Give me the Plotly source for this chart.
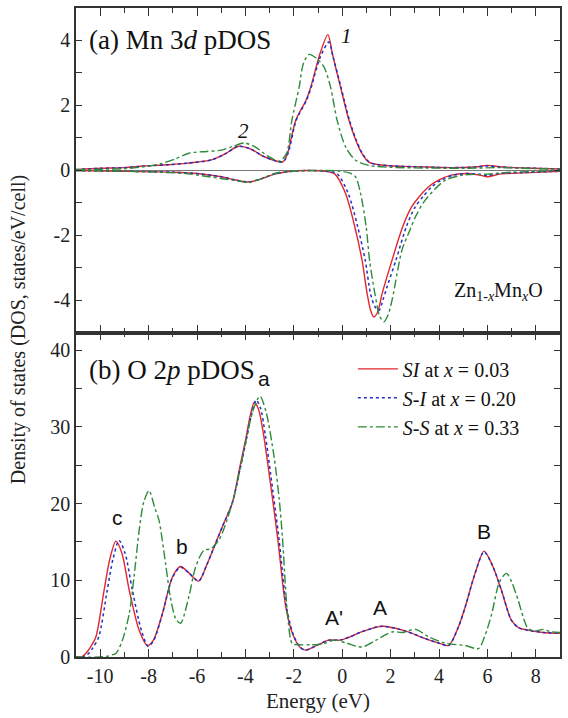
import plotly.graph_objects as go
from plotly.subplots import make_subplots

# ---------------- data ----------------
# Panel (a): Mn 3d pDOS, spin-up (positive) and spin-down (negative)
si_up_x = [-11, -10, -9, -8.2, -7.2, -6.4, -5.4, -4.8, -4.3, -3.8, -3.2, -2.45, -2.26, -1.92, -1.5, -1.3,
           -0.92, -0.59, -0.41, -0.07, 0.28, 0.55, 0.82, 1.1, 1.5, 2.5, 3.5, 4.5, 5.5, 6.0, 6.6, 7.5, 9]
si_up_y = [0.02, 0.06, 0.08, 0.13, 0.17, 0.22, 0.32, 0.52, 0.74, 0.66, 0.41, 0.26, 0.52, 1.54, 2.15, 2.56,
           3.59, 4.18, 3.6, 2.56, 1.54, 0.95, 0.51, 0.25, 0.17, 0.12, 0.1, 0.08, 0.1, 0.15, 0.1, 0.07, 0.04]
si_dn_x = [-11, -9, -7, -6, -5, -4.4, -3.9, -3.4, -2.8, -2.2, -1.5, -0.7, -0.3, 0.14, 0.52, 0.82, 1.03, 1.17,
           1.3, 1.45, 1.65, 2.06, 2.5, 2.85, 3.2, 3.57, 4.0, 4.5, 5.2, 5.7, 6.0, 6.5, 7.5, 9]
si_dn_y = [-0.01, -0.03, -0.06, -0.1, -0.2, -0.3, -0.36, -0.28, -0.12, -0.04, -0.01, -0.03, -0.12, -0.72,
           -1.74, -2.77, -3.8, -4.31, -4.52, -4.4, -3.8, -2.77, -1.74, -1.15, -0.8, -0.51, -0.3, -0.15, -0.1,
           -0.15, -0.2, -0.12, -0.08, -0.03]

sdi_up_x = [-11, -10, -9, -8.2, -7.2, -6.4, -5.4, -4.8, -4.3, -3.8, -3.2, -2.45, -2.24, -1.9, -1.48, -1.28,
            -0.9, -0.55, -0.38, -0.05, 0.3, 0.57, 0.84, 1.12, 1.5, 2.5, 3.5, 4.5, 5.5, 6.0, 6.6, 7.5, 9]
sdi_up_y = [0.02, 0.06, 0.08, 0.13, 0.17, 0.22, 0.32, 0.52, 0.74, 0.66, 0.41, 0.26, 0.52, 1.54, 2.15, 2.56,
            3.5, 3.95, 3.5, 2.56, 1.54, 0.95, 0.51, 0.25, 0.17, 0.12, 0.1, 0.08, 0.1, 0.13, 0.1, 0.07, 0.04]
sdi_dn_x = [-11, -9, -7, -6, -5, -4.4, -3.9, -3.4, -2.8, -2.2, -1.5, -0.7, -0.2, 0.25, 0.64, 0.95, 1.17, 1.35,
            1.52, 1.68, 1.85, 2.22, 2.65, 3.0, 3.35, 3.7, 4.1, 4.6, 5.2, 5.7, 6.0, 6.5, 7.5, 9]
sdi_dn_y = [-0.01, -0.03, -0.06, -0.1, -0.2, -0.3, -0.36, -0.28, -0.12, -0.04, -0.01, -0.03, -0.12, -0.72,
            -1.74, -2.77, -3.8, -4.2, -4.32, -4.0, -3.6, -2.77, -1.74, -1.15, -0.8, -0.51, -0.3, -0.15, -0.1,
            -0.13, -0.16, -0.1, -0.07, -0.03]

ss_up_x = [-11, -10, -9, -8.3, -7.5, -6.9, -6.3, -5.6, -5.0, -4.5, -4.05, -3.6, -3.1, -2.6, -2.3, -2.08,
           -1.78, -1.6, -1.37, -1.03, -0.75, -0.48, -0.21, 0.14, 0.55, 1.1, 2.0, 3.5, 5, 6.5, 8, 9]
ss_up_y = [0.02, 0.03, 0.05, 0.1, 0.2, 0.35, 0.53, 0.58, 0.62, 0.74, 0.84, 0.72, 0.45, 0.28, 0.52, 1.54,
           2.56, 3.3, 3.57, 3.43, 3.18, 2.56, 1.54, 0.72, 0.31, 0.15, 0.09, 0.07, 0.06, 0.08, 0.05, 0.04]
ss_dn_x = [-11, -9, -8, -6.5, -5.5, -4.96, -4.3, -3.9, -3.4, -2.8, -2.2, -1.2, -0.2, 0.3, 0.55, 0.76, 0.99,
           1.13, 1.35, 1.55, 1.72, 1.9, 2.06, 2.47, 2.74, 3.05, 3.43, 4.25, 5.0, 6.0, 7.0, 9]
ss_dn_y = [-0.01, -0.03, -0.05, -0.1, -0.2, -0.26, -0.33, -0.38, -0.28, -0.1, -0.03, -0.01, -0.02, -0.08,
           -0.2, -0.72, -1.74, -2.77, -3.8, -4.5, -4.67, -4.45, -4.0, -2.46, -1.95, -1.4, -0.92, -0.31, -0.15,
           -0.12, -0.06, -0.02]

# Panel (b): O 2p pDOS
si_o_x = [-11, -10.75, -10.59, -10.4, -10.18, -9.84, -9.6, -9.35, -9.1, -8.8, -8.39, -8.05, -7.8, -7.43, -7.02,
          -6.68, -6.35, -5.93, -5.6, -5.35, -4.95, -4.53, -4.25, -3.98, -3.8, -3.63, -3.45, -3.25, -3.02, -2.67,
          -2.33, -2.06, -1.75, -1.51, -1.0, -0.55, -0.1, 0.3, 0.82, 1.65, 2.6, 3.43, 4.0, 4.4, 4.8, 5.08, 5.49,
          5.86, 6.2, 6.58, 6.99, 7.3, 7.68, 8.3, 9.0]
si_o_y = [0.0, 0.05, 0.5, 1.3, 2.6, 8.7, 12.8, 15.1, 13.5, 8.7, 3.5, 1.5, 2.2, 5.65, 10.4, 11.8, 11.0, 9.9, 12.0,
          13.9, 17.0, 20.2, 24.5, 28.5, 31.5, 33.2, 32.2, 29.0, 23.9, 15.6, 6.5, 3.1, 1.3, 0.9, 1.6, 2.2, 2.2,
          2.6, 3.3, 4.0, 3.4, 2.4, 1.8, 1.5, 3.9, 6.5, 10.9, 13.8, 12.0, 8.7, 4.8, 3.8, 3.5, 3.2, 3.1]

sdi_o_x = [-11, -10.7, -10.5, -10.3, -10.06, -9.71, -9.47, -9.22, -8.97, -8.67, -8.3, -8.02, -7.8, -7.43, -7.02,
           -6.68, -6.35, -5.93, -5.6, -5.35, -4.95, -4.53, -4.22, -3.95, -3.75, -3.56, -3.38, -3.18, -2.96, -2.62,
           -2.3, -2.04, -1.75, -1.51, -1.0, -0.55, -0.1, 0.3, 0.82, 1.65, 2.6, 3.43, 4.0, 4.4, 4.8, 5.08, 5.49,
           5.86, 6.2, 6.58, 6.99, 7.3, 7.68, 8.3, 9.0]
sdi_o_y = [0.0, 0.05, 0.4, 1.2, 2.6, 8.7, 12.8, 15.2, 13.5, 8.7, 3.5, 1.4, 2.1, 5.6, 10.3, 11.7, 11.0, 9.9, 12.0,
           13.9, 17.0, 20.2, 24.5, 28.5, 31.6, 33.5, 32.5, 29.0, 23.9, 15.6, 6.5, 3.1, 1.3, 0.9, 1.6, 2.2, 2.2,
           2.6, 3.3, 4.0, 3.4, 2.4, 1.8, 1.5, 3.9, 6.5, 10.9, 13.7, 12.0, 8.7, 4.8, 3.8, 3.5, 3.2, 3.1]

ss_o_x = [-11, -10, -9.7, -9.49, -9.35, -9.08, -8.8, -8.6, -8.39, -8.2, -7.98, -7.75, -7.57, -7.3, -7.1, -6.88,
          -6.68, -6.34, -6.06, -5.72, -5.44, -5.1, -4.53, -4.0, -3.7, -3.4, -3.15, -2.81, -2.6, -2.47, -2.26,
          -2.06, -1.8, -1.3, -0.8, -0.3, 0.2, 0.82, 1.4, 2.06, 2.5, 3.02, 3.6, 4.25, 5.08, 5.63, 5.9, 6.18, 6.5,
          6.79, 7.0, 7.27, 7.5, 7.68, 8.0, 8.3, 8.6, 9.0]
ss_o_y = [0.0, 0.0, 0.1, 0.3, 0.45, 2.2, 5.65, 10.5, 16.5, 20.2, 21.7, 19.5, 17.8, 12.2, 7.8, 5.0, 4.4, 7.8,
          11.7, 13.9, 14.1, 15.2, 20.2, 27.8, 32.0, 34.0, 32.0, 26.0, 20.5, 15.6, 5.65, 1.75, 1.6, 1.6, 1.7,
          2.2, 1.8, 1.3, 2.2, 3.26, 3.2, 3.6, 2.6, 1.8, 1.5, 1.1, 2.8, 5.65, 9.8, 10.9, 9.8, 7.4, 5.0, 3.7, 3.4,
          3.6, 3.3, 3.2]

series_names = ["<i>SI</i> at <i>x</i> = 0.03", "<i>S-I</i> at <i>x</i> = 0.20", "<i>S-S</i> at <i>x</i> = 0.33"]

x_tickvals = [-10, -8, -6, -4, -2, 0, 2, 4, 6, 8]
x_ticktext = ["-10", "-8", "-6", "-4", "-2", "0", "2", "4", "6", "8"]
ya_tickvals = [-4, -2, 0, 2, 4]
ya_ticktext = ["-4", "-2", "0", "2", "4"]
yb_tickvals = [0, 10, 20, 30, 40]
yb_ticktext = ["0", "10", "20", "30", "40"]

# peak labels (text, x, y)
mn_labels = [("1", 0.16, 4.15), ("2", -4.07, 1.2)]
o_labels = [("c", -9.27, 18.2), ("b", -6.61, 14.4), ("a", -3.24, 36.3),
            ("A'", -0.34, 5.2), ("A", 1.58, 6.5), ("B", 5.86, 16.3)]

# ---------------- styling ----------------
SERIF = "Liberation Serif, Times New Roman, serif"
SANS = "Liberation Sans, Arial, sans-serif"
RED = "#e3262c"
BLUE = "#1f2fc4"
GREEN = "#2e8b3a"
styles = [dict(color=RED, width=1.4, dash="solid"),
          dict(color=BLUE, width=1.5, dash="dot"),
          dict(color=GREEN, width=1.4, dash="dashdot")]

fig = make_subplots(rows=2, cols=1, shared_xaxes=True, vertical_spacing=0)

top_sets = [(si_up_x, si_up_y, si_dn_x, si_dn_y),
            (sdi_up_x, sdi_up_y, sdi_dn_x, sdi_dn_y),
            (ss_up_x, ss_up_y, ss_dn_x, ss_dn_y)]
bot_sets = [(si_o_x, si_o_y), (sdi_o_x, sdi_o_y), (ss_o_x, ss_o_y)]

for i, (ux, uy, dx, dy) in enumerate(top_sets):
    for xs, ys in ((ux, uy), (dx, dy)):
        fig.add_trace(go.Scatter(x=xs, y=ys, mode="lines", line=dict(**styles[i], shape="spline", smoothing=0.8),
                                 showlegend=False, hoverinfo="skip"), row=1, col=1)
for i, (xs, ys) in enumerate(bot_sets):
    fig.add_trace(go.Scatter(x=xs, y=ys, mode="lines", name=series_names[i],
                             line=dict(**styles[i], shape="spline", smoothing=0.8),
                             showlegend=True, hoverinfo="skip"), row=2, col=1)

axis_common = dict(showline=True, linecolor="#333", linewidth=1.5, mirror="ticks", ticks="inside",
                   tickcolor="#333", tickwidth=1.3, showgrid=False, zeroline=False,
                   tickfont=dict(family=SERIF, size=20, color="#222"))

fig.update_xaxes(range=[-11, 9], tickvals=x_tickvals, ticktext=x_ticktext, ticklen=8,
                 minor=dict(ticks="inside", dtick=1, ticklen=5, tickcolor="#333", tickwidth=1.2),
                 **axis_common)
fig.update_xaxes(showticklabels=False, row=1, col=1)
fig.update_xaxes(title=dict(text="Energy (eV)", font=dict(family=SERIF, size=21, color="#222"), standoff=8),
                 row=2, col=1)
fig.update_yaxes(range=[-5, 5], tickvals=ya_tickvals, ticktext=ya_ticktext, ticklen=6,
                 minor=dict(ticks="inside", dtick=1, tick0=0, ticklen=6, tickcolor="#333", tickwidth=1.2),
                 row=1, col=1, **axis_common)
fig.update_yaxes(zeroline=True, zerolinecolor="#777", zerolinewidth=1, row=1, col=1)
fig.update_yaxes(range=[0, 42.3], tickvals=yb_tickvals, ticktext=yb_ticktext, ticklen=6,
                 minor=dict(ticks="inside", dtick=5, tick0=0, ticklen=6, tickcolor="#333", tickwidth=1.2),
                 row=2, col=1, **axis_common)

annotations = []
annotations.append(dict(text="(a) Mn 3<i>d</i> pDOS", x=-10.55, y=4.0, xref="x", yref="y", xanchor="left",
                        yanchor="middle", showarrow=False, font=dict(family=SERIF, size=27, color="#111")))
annotations.append(dict(text="(b) O 2<i>p</i> pDOS", x=-10.55, y=37.4, xref="x2", yref="y2", xanchor="left",
                        yanchor="middle", showarrow=False, font=dict(family=SERIF, size=27, color="#111")))
for t, lx, ly in mn_labels:
    annotations.append(dict(text="<i>%s</i>" % t, x=lx, y=ly, xref="x", yref="y", showarrow=False,
                            font=dict(family=SERIF, size=21, color="#111")))
for t, lx, ly in o_labels:
    annotations.append(dict(text=t, x=lx, y=ly, xref="x2", yref="y2", showarrow=False,
                            font=dict(family=SANS, size=21, color="#111")))
annotations.append(dict(text="Zn<sub>1-<i>x</i></sub>Mn<sub><i>x</i></sub>O", x=8.4, y=-3.75, xref="x", yref="y",
                        xanchor="right", yanchor="middle", showarrow=False,
                        font=dict(family=SERIF, size=20, color="#111")))
annotations.append(dict(text="Density of states (DOS, states/eV/cell)", x=-0.12, y=0.505, xref="paper",
                        yref="paper", textangle=-90, showarrow=False, xanchor="center", yanchor="middle",
                        font=dict(family=SERIF, size=20, color="#222")))

fig.update_layout(
    width=568, height=718,
    margin=dict(l=76, r=6, t=7, b=61),
    paper_bgcolor="white", plot_bgcolor="white",
    annotations=annotations,
    legend=dict(x=0.572, y=0.474, xanchor="left", yanchor="top", bgcolor="rgba(0,0,0,0)",
                font=dict(family=SERIF, size=20, color="#111"), itemwidth=40, tracegroupgap=0),
)

fig.write_html("out.html")
